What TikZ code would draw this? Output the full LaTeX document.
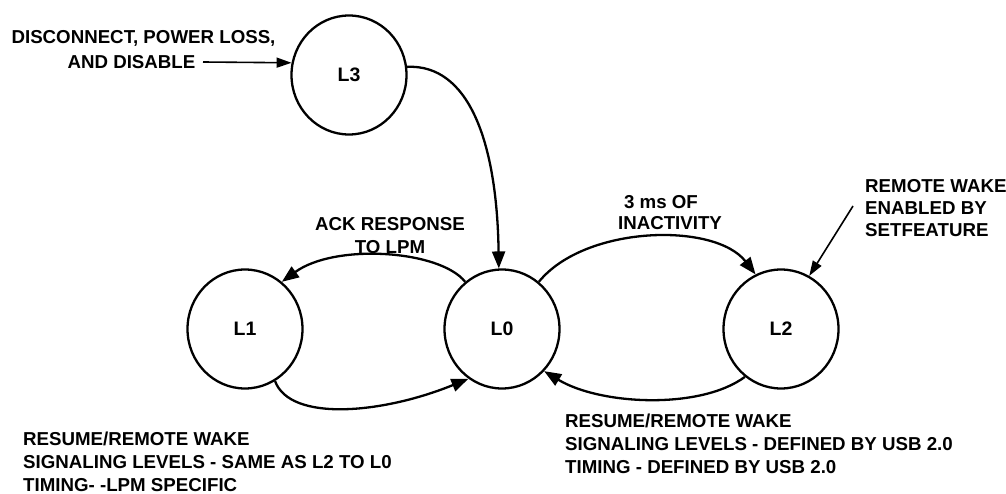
\documentclass[tikz,border=0pt]{standalone}
\usepackage{fontspec}
\setmainfont{Liberation Sans}
\usetikzlibrary{arrows.meta,shapes.geometric}
\begin{document}
\begin{tikzpicture}[x=1pt,y=-1pt,
  state/.style={ellipse,draw,line width=2.3pt,minimum width=115pt,minimum height=119pt,inner sep=0pt,font=\fontsize{19.5}{22}\selectfont\bfseries},
  lbl/.style={inner sep=0pt,font=\fontsize{18.7}{23}\selectfont\bfseries},
  conn/.style={line width=2.3pt,-{Triangle[length=17pt,width=13pt]}},
  thin/.style={line width=1.6pt,-{Triangle[length=15pt,width=10pt]}}]
\useasboundingbox (0,0) rectangle (1006,494);
\node[state] (L3) at (349,75) {L3};
\node[state] (L1) at (245,329) {L1};
\node[state] (L0) at (502,329) {L0};
\node[state] (L2) at (781,329) {L2};

\node[lbl] (t1) at (143.5,38) {DISCONNECT, POWER LOSS,};
\node[lbl] (t2) at (131.5,62) {AND DISABLE};
\coordinate (in) at (203,62);
\draw[thin] (in) -- (L3.168);

\draw[conn] (L3.8) .. controls (468,64) and (497,140) .. (L0.93);

\node[lbl,align=center] (ack) at (390,236) {ACK RESPONSE\\TO LPM};
\draw[conn] (L0.128) .. controls (440,250) and (335,243) .. (L1.52);

\node[lbl] (ms) at (661,202) {3 ms OF};
\node[lbl] (ina) at (670,223) {INACTIVITY};
\draw[conn] (L0.52) .. controls (585,225) and (715,222) .. (L2.115);

\node[lbl,align=left,anchor=north west] (rw) at (865,179) {REMOTE WAKE\\[-1pt]ENABLED BY\\[-1pt]SETFEATURE};
\coordinate (rws) at (853,206);
\draw[thin] (rws) -- (L2.62);

\draw[conn] (L1.-60) .. controls (290,422) and (382,414) .. (L0.236);
\draw[conn] (L2.233) .. controls (700,410) and (600,405) .. (L0.-45);

\node[lbl,align=left,anchor=north west] (bl) at (23,432) {RESUME/REMOTE WAKE\\SIGNALING LEVELS - SAME AS L2 TO L0\\TIMING- -LPM SPECIFIC};
\node[lbl,align=left,anchor=north west] (br) at (565,414) {RESUME/REMOTE WAKE\\SIGNALING LEVELS - DEFINED BY USB 2.0\\TIMING - DEFINED BY USB 2.0};
\end{tikzpicture}
\end{document}
